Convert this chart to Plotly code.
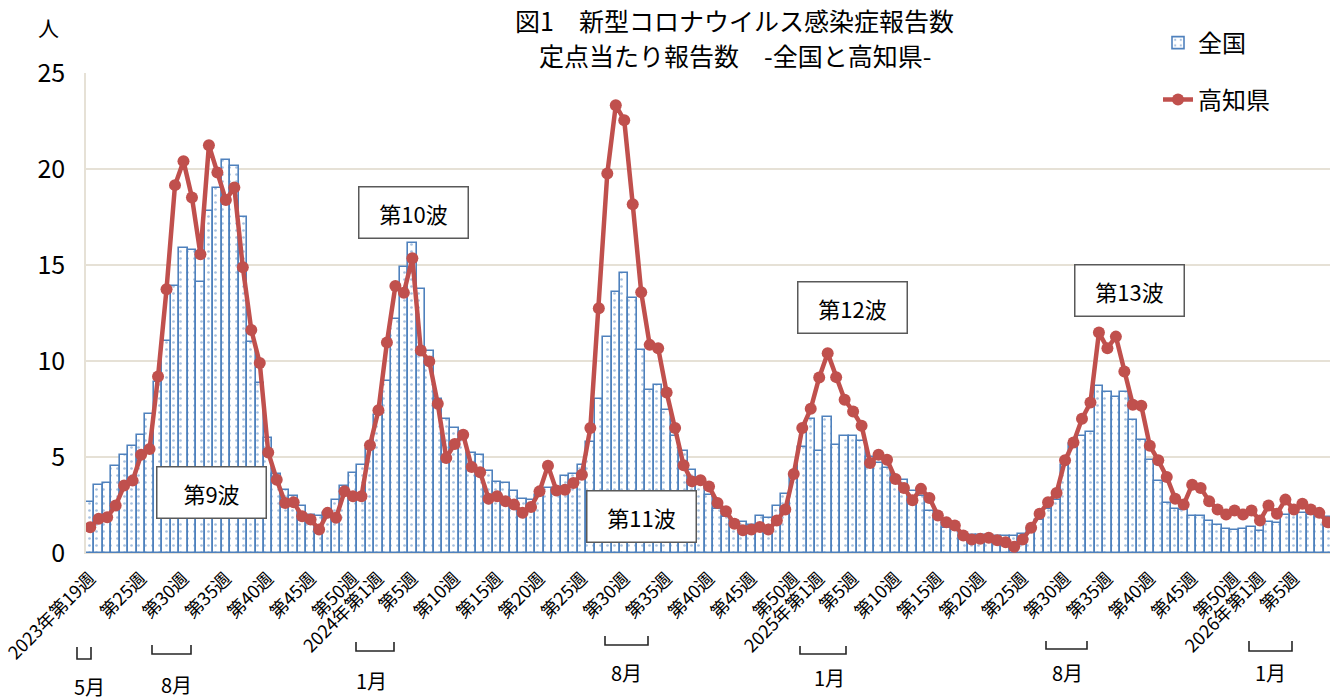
import plotly.graph_objects as go

# ---------------- data ----------------
years = [2023] * 34 + [2024] * 52 + [2025] * 52 + [2026] * 9
weeks = list(range(19, 53)) + list(range(1, 53)) + list(range(1, 53)) + list(range(1, 10))
categories = [f"{y}年第{w}週" for y, w in zip(years, weeks)]

national = [
    2.64, 3.56, 3.65, 4.55, 5.12, 5.59, 6.16, 7.25, 8.9, 11.05,
    13.9, 15.9, 15.78, 14.13, 17.83, 19.02, 20.46, 20.15, 17.51, 11.0,
    8.85, 6.0, 4.1, 3.27, 2.95, 2.47, 2.0, 1.95, 2.1, 2.75,
    3.51, 4.17, 4.57, 5.4, 7.2, 8.94, 12.18, 14.91, 16.13, 13.74,
    10.5, 8.0, 6.98, 6.51, 6.3, 5.21, 5.09, 4.25, 3.7, 3.63,
    3.21, 2.8, 2.78, 3.04, 3.39, 3.3, 4.0, 4.13, 4.6, 5.78,
    8.03, 11.24, 13.62, 14.57, 13.27, 10.58, 8.47, 8.76, 7.46, 6.1,
    5.3, 4.34, 3.9, 3.04, 2.3, 1.88, 1.65, 1.6, 1.48, 1.91,
    1.81, 2.43, 3.08, 4.0, 5.5, 6.98, 5.33, 7.08, 5.61, 6.07,
    6.07, 5.81, 5.0, 4.69, 4.43, 3.9, 3.82, 3.21, 2.95, 2.17,
    1.83, 1.31, 1.22, 0.96, 0.96, 0.92, 0.87, 0.87, 0.9, 0.9,
    1.01, 1.25, 1.74, 2.3, 2.78, 4.6, 5.7, 6.11, 6.28, 8.71,
    8.36, 8.12, 8.41, 6.91, 5.87, 4.86, 3.73, 2.61, 2.3, 2.26,
    1.95, 1.93, 1.65, 1.45, 1.27, 1.22, 1.25, 1.34, 1.13, 1.6,
    1.57, 2.0, 2.1, 2.08, 2.0, 1.93, 1.85,
]

kochi = [
    1.34, 1.78, 1.86, 2.47, 3.51, 3.77, 5.12, 5.42, 9.19, 13.74,
    19.16, 20.41, 18.52, 15.56, 21.24, 19.82, 18.38, 19.04, 14.88, 11.62,
    9.89, 5.24, 3.82, 2.61, 2.64, 1.91, 1.74, 1.22, 2.09, 1.83,
    3.21, 2.95, 2.95, 5.61, 7.43, 10.96, 13.91, 13.56, 15.35, 10.55,
    9.98, 7.77, 4.95, 5.68, 6.16, 4.48, 4.2, 2.83, 2.95, 2.7,
    2.52, 2.09, 2.4, 3.21, 4.55, 3.25, 3.3, 3.65, 4.08, 6.51,
    12.75, 19.77, 23.32, 22.54, 18.16, 13.58, 10.84, 10.67, 8.36, 6.51,
    4.57, 3.73, 3.79, 3.47, 2.61, 2.17, 1.52, 1.19, 1.22, 1.36,
    1.22, 1.69, 2.26, 4.12, 6.51, 7.51, 9.14, 10.41, 9.16, 7.98,
    7.37, 6.63, 4.69, 5.12, 4.86, 3.86, 3.39, 2.75, 3.34, 2.87,
    1.95, 1.6, 1.43, 0.91, 0.7, 0.74, 0.79, 0.67, 0.56, 0.32,
    0.7, 1.31, 2.05, 2.64, 3.13, 4.83, 5.76, 6.99, 7.84, 11.48,
    10.67, 11.27, 9.45, 7.72, 7.67, 5.59, 4.83, 3.96, 2.82, 2.52,
    3.56, 3.39, 2.7, 2.26, 2.0, 2.21, 2.0, 2.21, 1.69, 2.47,
    2.05, 2.78, 2.26, 2.56, 2.26, 2.09, 1.6,
]

# tick labels
tick_vals, tick_text = [], []
for i, (y, w) in enumerate(zip(years, weeks)):
    if i == 0 or w == 1:
        tick_vals.append(categories[i]); tick_text.append(f"{y}年第{w}週")
    elif w % 5 == 0 and not (y == 2023 and w == 20):
        tick_vals.append(categories[i]); tick_text.append(f"第{w}週")

# wave labels: (text, category index, value)
wave_labels = [("第9波", 14.3, 3.15), ("第10波", 38.1, 17.76), ("第11波", 65.0, 1.9),
               ("第12波", 89.9, 12.77), ("第13波", 122.6, 13.65)]

# month brackets (pixel positions of the decoration)
month_marks = [("5月", 77, 91, 647, 659, 89, 686), ("8月", 152, 191, 645, 654, 176, 684),
               ("1月", 356, 394, 642, 651, 371, 680), ("8月", 605, 648, 636, 645, 626, 672),
               ("1月", 800, 846, 646, 654, 829, 677), ("8月", 1046, 1087, 641, 649, 1067, 672),
               ("1月", 1249, 1292, 641, 651, 1270, 672)]

# ---------------- figure ----------------
W, H = 1330, 700
ML, MR, MT, MB = 86, 0, 73, 147
PW, PH = W - ML - MR, H - MT - MB
FONT = "'Noto Sans CJK JP', sans-serif"
BLUE = "#4F81BD"
RED = "#C0504D"
GRID = "#E6E1D6"

def px2x(px):
    return (px - ML) / PW

def py2y(py):
    return (H - MB - py) / PH

fig = go.Figure()
fig.add_trace(go.Bar(
    x=categories, y=national, name="全国",
    marker=dict(color="white", line=dict(color=BLUE, width=1.6),
                pattern=dict(shape=".", fgcolor=BLUE, bgcolor="white", size=7, solidity=0.12)),
    legend="legend",
))
fig.add_trace(go.Scatter(
    x=categories, y=kochi, name="高知県", mode="lines+markers",
    line=dict(color=RED, width=4.5), marker=dict(color=RED, size=12),
    legend="legend2", cliponaxis=False,
))

annotations = []
for text, xc, yv in wave_labels:
    annotations.append(dict(x=xc, y=yv, xref="x", yref="y", text=text, showarrow=False,
                            xanchor="center", yanchor="middle",
                            font=dict(family=FONT, size=22, color="black"),
                            bgcolor="white", bordercolor="#595959", borderwidth=1.5,
                            width=104, height=46, borderpad=2))

shapes = []
for text, x0, x1, yt, yb, tx, ty in month_marks:
    path = (f"M{px2x(x0)},{py2y(yt)} L{px2x(x0)},{py2y(yb)} "
            f"L{px2x(x1)},{py2y(yb)} L{px2x(x1)},{py2y(yt)}")
    shapes.append(dict(type="path", path=path, xref="paper", yref="paper",
                       line=dict(color="#262626", width=1.6)))
    annotations.append(dict(x=px2x(tx), y=py2y(ty), xref="paper", yref="paper", text=text,
                            xanchor="center", yanchor="middle",
                            showarrow=False, font=dict(family=FONT, size=20, color="black")))

# white legend background strip over top gridline
shapes.append(dict(type="rect", xref="paper", yref="paper", x0=px2x(1106), x1=1.0,
                   y0=py2y(80), y1=py2y(66), fillcolor="white", line=dict(width=0), layer="above"))

annotations += [
    dict(x=px2x(735), y=py2y(20), xref="paper", yref="paper", text="図1　新型コロナウイルス感染症報告数",
         xanchor="center", yanchor="middle",
         showarrow=False, font=dict(family=FONT, size=25, color="black")),
    dict(x=px2x(735), y=py2y(55), xref="paper", yref="paper", text="定点当たり報告数　-全国と高知県-",
         xanchor="center", yanchor="middle",
         showarrow=False, font=dict(family=FONT, size=25, color="black")),
    dict(x=px2x(48), y=py2y(27), xref="paper", yref="paper", text="人",
         xanchor="center", yanchor="middle",
         showarrow=False, font=dict(family=FONT, size=21, color="black")),
]

fig.update_layout(
    width=W, height=H, margin=dict(l=ML, r=MR, t=MT, b=MB, autoexpand=False),
    paper_bgcolor="white", plot_bgcolor="white",
    bargap=0.0,
    showlegend=True,
    legend=dict(x=px2x(1158), y=py2y(43), xanchor="left", yanchor="middle", bgcolor="white",
                font=dict(family=FONT, size=24, color="black")),
    legend2=dict(x=px2x(1158), y=py2y(100), xanchor="left", yanchor="middle", bgcolor="white",
                 font=dict(family=FONT, size=24, color="black")),
    xaxis=dict(type="category", categoryorder="array", categoryarray=categories,
               range=[-0.5, 146.26], tickmode="array", tickvals=tick_vals, ticktext=tick_text,
               tickangle=-45, tickfont=dict(family=FONT, size=18, color="black"),
               showgrid=False, showline=True, linecolor=GRID, ticks="", ticklabelstandoff=7),
    yaxis=dict(range=[0, 25], dtick=5, tickmode="linear", tick0=0,
               tickfont=dict(family=FONT, size=25, color="black"),
               showgrid=True, gridcolor=GRID, gridwidth=1.5, zeroline=False,
               showline=True, linecolor=GRID, linewidth=1.5, ticks="", ticklabelstandoff=14),
    annotations=annotations, shapes=shapes,
)

fig.write_html("out.html", config={"displayModeBar": False})
with open("out.html", encoding="utf-8") as f:
    html = f.read()
html = html.replace("<head>", "<head><style>html,body{margin:0;padding:0;overflow:hidden}</style>", 1)
with open("out.html", "w", encoding="utf-8") as f:
    f.write(html)
